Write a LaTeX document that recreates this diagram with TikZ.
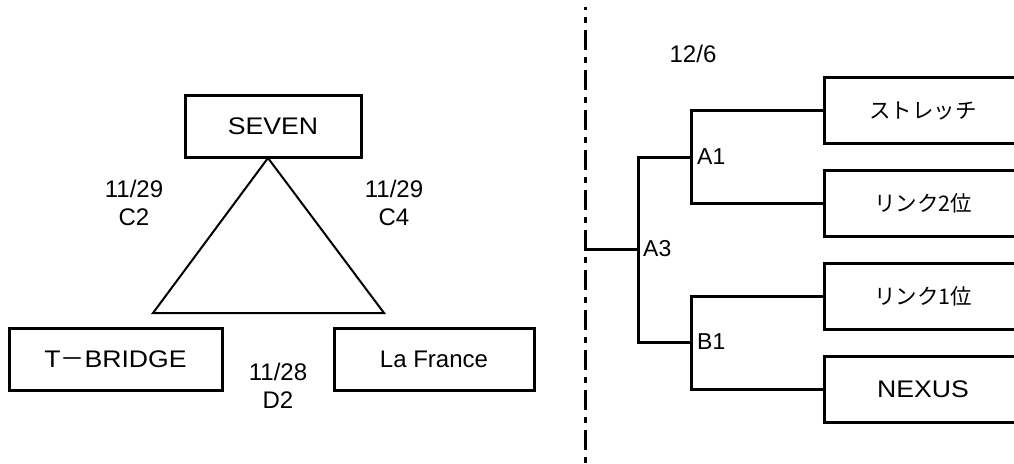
\documentclass[tikz,border=0pt]{standalone}
\usepackage{fontspec}
\setmainfont{Liberation Sans}
\newfontfamily\jp{Noto Sans CJK JP}
\newfontfamily\widesans{Liberation Sans}[FakeStretch=1.11]
\begin{document}
\begin{tikzpicture}[x=1pt,y=-1pt,
  box/.style={draw, line width=3pt, inner sep=0pt, minimum height=62pt, font=\fontsize{24}{24}\selectfont},
  lbl/.style={align=center, inner sep=0pt, font=\fontsize{24}{28}\selectfont},
  tag/.style={anchor=west, inner sep=0pt, font=\fontsize{23}{23}\selectfont},
  jpbox/.style={box, minimum width=198pt, minimum height=66pt, font=\jp\fontsize{21.5}{21.5}\selectfont},
  tri/.style={line width=2pt, line join=miter},
  bracket/.style={line width=3pt, line cap=rect},
  divider/.style={line width=3pt, dash pattern=on 20pt off 7pt on 6pt off 7pt, dash phase=17pt}]
\useasboundingbox (0,0) rectangle (1014,463);
\clip (0,0) rectangle (1014,463);

% left part
\node[box, minimum width=176pt, font=\widesans\fontsize{24}{24}\selectfont] (seven) at (273,126) {SEVEN};
\node[box, minimum width=213pt, font=\widesans\fontsize{24}{24}\selectfont] (tb) at (115.5,359) {T{\jp －}BRIDGE};
\node[box, minimum width=200pt] (lf) at (434,359) {La France};

\coordinate (apex) at (268,158);
\coordinate (bl) at (153,313);
\coordinate (br) at (384,313);
\draw[tri] (apex) -- (bl) -- (br) -- cycle;

\node[lbl] (c2) at (134,203) {11/29\\C2};
\node[lbl] (c4) at (394,203) {11/29\\C4};
\node[lbl] (d2) at (278,386) {11/28\\D2};

% divider
\coordinate (dtop) at (585,7);
\coordinate (dbot) at (585,463);
\draw[divider] (dtop) -- (dbot);

% right part
\node[lbl] (date) at (693,54) {12/6};

\node[jpbox] (s1) at (923,110.5) {ストレッチ};
\node[jpbox] (s2) at (923,203) {リンク2位};
\node[jpbox] (s3) at (923,296) {リンク1位};
\node[jpbox, font=\widesans\fontsize{24}{24}\selectfont] (s4) at (923,389) {NEXUS};

\coordinate (root) at (585,249);
\coordinate (ja3) at (638,249);
\coordinate (ja1) at (691,157);
\coordinate (jb1) at (691,342);

\draw[bracket] (root) -- (ja3);
\draw[bracket] (ja1) -| (ja3) |- (jb1);
\draw[bracket] (s1.west) -| (ja1) |- (s2.west);
\draw[bracket] (s3.west) -| (jb1) |- (s4.west);

\node[tag] (a1) at (697,157) {A1};
\node[tag] (a3) at (643,249) {A3};
\node[tag] (b1) at (697,342) {B1};
\end{tikzpicture}
\end{document}
